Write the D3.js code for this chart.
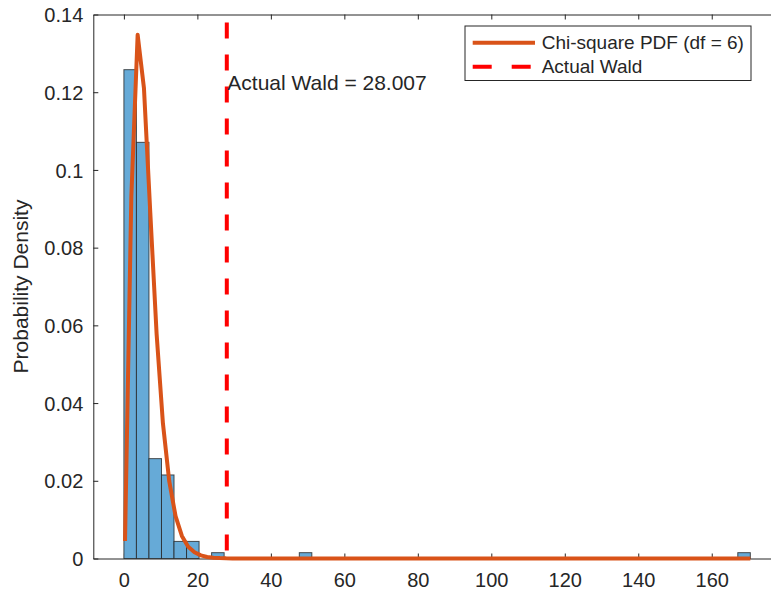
<!DOCTYPE html>
<html>
<head>
<meta charset="utf-8">
<script src="https://cdn.jsdelivr.net/npm/d3@7"></script>
<style>
  body { margin: 0; background: #fff; }
  svg text { font-family: "Liberation Sans", Arial, Helvetica, sans-serif; fill: #262626; }
</style>
</head>
<body>
<div id="chart"></div>
<script>
// histogram of simulated Wald stats (probability density), bin width ~3.41
const binWidth = 3.41
const binIndex = [0, 1, 2, 3, 4, 5, 7, 14, 49]
const binDensity = [0.1258, 0.1071, 0.0257, 0.0215, 0.0044, 0.0044, 0.0015, 0.0015, 0.0015]

// chi-square pdf curve
const curveX = [0.3, 2.02, 3.74, 5.46, 7.18, 8.9, 10.62, 12.34, 14.06, 15.78, 17.5, 19.22,
  20.94, 22.66, 24.38, 26.1, 27.82, 29.54, 31.26, 40, 80, 120, 170.5]
const curveY = [0.0045, 0.093, 0.1348, 0.121, 0.089, 0.0578, 0.0348, 0.0199, 0.0109, 0.0058, 0.003, 0.0016,
  0.0008, 0.0004, 0.0002, 0.0001, 0.00004, 0.00002, 0, 0, 0, 0, 0]

const actualWald = 28.007
const waldLabelY = 0.1224

const xTicks = [0, 20, 40, 60, 80, 100, 120, 140, 160]
const yTicks = [0, 0.02, 0.04, 0.06, 0.08, 0.1, 0.12, 0.14]
const yTickLabels = ['0', '0.02', '0.04', '0.06', '0.08', '0.1', '0.12', '0.14']
const legendLabels = ['Chi-square PDF (df = 6)', 'Actual Wald']

const width = 771, height = 594
const axisColor = '#262626'

const xScale = d3.scaleLinear()
  .domain([-8.33, 180])
  .range([93.3, 93.3 + 188.33 * 3.674])

const yScale = d3.scaleLinear()
  .domain([0, 0.14])
  .range([558.5, 14.5])

const svg = d3.select('#chart')
  .append('svg')
  .attr('width', width)
  .attr('height', height)

// axes box (left, bottom, top) - inward ticks like matlab
const xAxisBottom = svg.append('g')
  .attr('transform', `translate(0, ${yScale(0)})`)
  .call(d3.axisBottom(xScale).tickValues(xTicks).tickSizeInner(-5).tickSizeOuter(0).tickPadding(14))
const xAxisTop = svg.append('g')
  .attr('transform', `translate(0, ${yScale(0.14)})`)
  .call(d3.axisTop(xScale).tickValues(xTicks).tickSizeInner(-5).tickSizeOuter(0).tickFormat(''))
const yAxis = svg.append('g')
  .attr('transform', `translate(${xScale.range()[0]}, 0)`)
  .call(d3.axisLeft(yScale).tickValues(yTicks).tickSizeInner(-5).tickSizeOuter(0).tickPadding(10)
    .tickFormat((d, i) => yTickLabels[i]))

;[xAxisBottom, xAxisTop, yAxis].forEach(g => {
  g.select('.domain').attr('stroke', axisColor).attr('stroke-width', 1)
  g.selectAll('.tick line').attr('stroke', axisColor).attr('stroke-width', 1)
  g.selectAll('.tick text').attr('font-size', 20).attr('fill', axisColor)
})
xAxisBottom.selectAll('.tick text').attr('dy', '0.71em')
yAxis.selectAll('.tick text').attr('dy', '0.36em')

svg.append('text')
  .attr('transform', `translate(28, ${(yScale(0) + yScale(0.14)) / 2}) rotate(-90)`)
  .attr('text-anchor', 'middle')
  .attr('font-size', 21)
  .text('Probability Density')

// histogram bars
const bars = binIndex.map((b, i) => ({ x0: b * binWidth, x1: (b + 1) * binWidth, d: binDensity[i] }))
svg.append('g')
  .selectAll('rect')
  .data(bars)
  .enter()
  .append('rect')
  .attr('x', d => xScale(d.x0))
  .attr('width', d => xScale(d.x1) - xScale(d.x0))
  .attr('y', d => yScale(d.d))
  .attr('height', d => yScale(0) - yScale(d.d))
  .attr('fill', '#66AAD7')
  .attr('stroke', '#262626')
  .attr('stroke-opacity', 0.8)
  .attr('stroke-width', 1)

// chi-square curve
const line = d3.line()
  .x((d, i) => xScale(curveX[i]))
  .y(d => yScale(d))
svg.append('path')
  .datum(curveY)
  .attr('d', line)
  .attr('fill', 'none')
  .attr('stroke', '#D95319')
  .attr('stroke-width', 4)
  .attr('stroke-linejoin', 'round')

// actual wald line
svg.append('line')
  .attr('x1', xScale(actualWald))
  .attr('x2', xScale(actualWald))
  .attr('y1', yScale(0.14))
  .attr('y2', yScale(0))
  .attr('stroke', '#FF0000')
  .attr('stroke-width', 4)
  .attr('stroke-dasharray', '16,16')
  .attr('stroke-dashoffset', -8)

svg.append('text')
  .attr('x', xScale(actualWald) + 0.5)
  .attr('y', yScale(waldLabelY))
  .attr('dy', '0.35em')
  .attr('font-size', 21)
  .attr('fill', '#000')
  .text(`Actual Wald = ${actualWald.toFixed(3)}`)

// legend
const legend = svg.append('g').attr('transform', 'translate(465, 26)')
legend.append('rect')
  .attr('width', 286)
  .attr('height', 54.5)
  .attr('fill', '#fff')
  .attr('stroke', axisColor)
  .attr('stroke-width', 1)

const legendStyles = [
  { stroke: '#D95319', dash: null },
  { stroke: '#FF0000', dash: '19,20' }
]
legendLabels.forEach((label, i) => {
  const yy = 16.7 + i * 24
  legend.append('line')
    .attr('x1', 7.7).attr('x2', 70)
    .attr('y1', yy).attr('y2', yy)
    .attr('stroke', legendStyles[i].stroke)
    .attr('stroke-width', 4)
    .attr('stroke-dasharray', legendStyles[i].dash)
  legend.append('text')
    .attr('x', 76.7)
    .attr('y', yy)
    .attr('dy', '0.35em')
    .attr('font-size', 19)
    .attr('fill', '#000')
    .text(label)
})
</script>
</body>
</html>
